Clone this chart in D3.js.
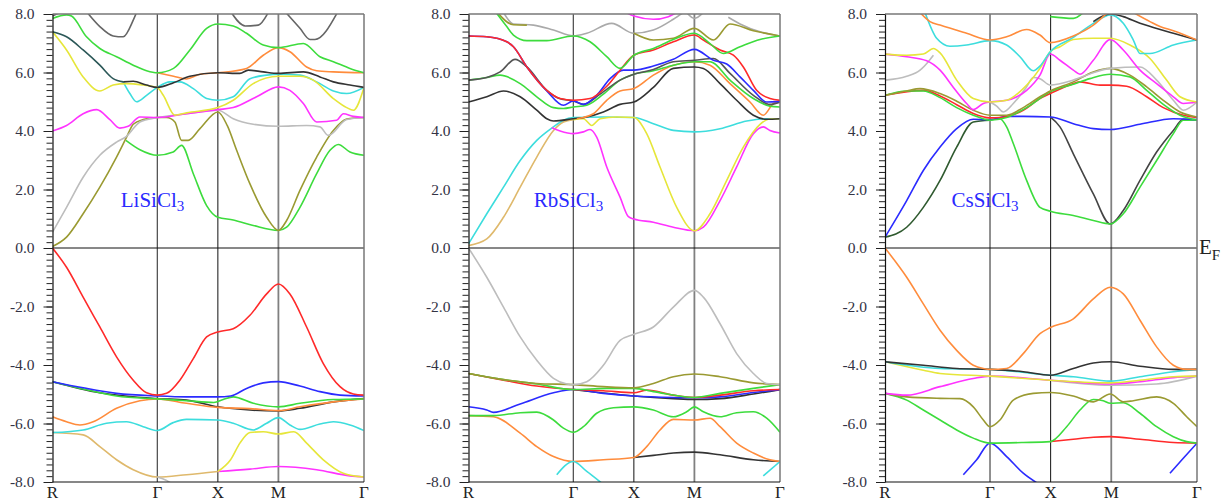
<!DOCTYPE html>
<html>
<head>
<meta charset="utf-8">
<script src="https://cdn.jsdelivr.net/npm/d3@7"></script>
<style>
  body { margin: 0; background: #fff; }
  svg text { font-family: "Liberation Serif", "Times New Roman", serif; }
</style>
</head>
<body>
<div id="chart"></div>
<script>
// high symmetry path R - G - X - M - G (path length units)
var kTicks = [0, 0.866, 1.366, 1.866, 2.573];
var kLabels = ["R", "\u0393", "X", "M", "\u0393"];
var eTicks = [8, 6, 4, 2, 0, -2, -4, -6, -8];

// ---------------- LiSiCl3 ----------------
var li_olive = [[0,0.05],[0.116,0.37],[0.253,1.17],[0.391,2.08],[0.529,3.11],[0.612,3.79],[0.667,4.23],[0.749,4.39],[0.866,4.46],[0.942,4.46],[1.011,4.31],[1.066,3.68],[1.121,3.68],[1.218,4.08],[1.366,4.65],[1.443,4.19],[1.521,3.34],[1.631,2.19],[1.769,1.05],[1.866,0.6],[1.934,0.94],[2.044,1.97],[2.182,3.11],[2.32,4.02],[2.43,4.41],[2.573,4.46]];
var li_green1 = [[0.606,3.68],[0.722,3.36],[0.866,3.17],[0.997,3.28],[1.066,3.51],[1.163,2.54],[1.273,1.45],[1.366,1.05],[1.493,0.96],[1.658,0.77],[1.866,0.6],[1.934,0.71],[2.044,1.39],[2.182,2.54],[2.292,3.34],[2.361,3.54],[2.457,3.28],[2.573,3.17]];
var li_gray = [[0,0.54],[0.116,1.39],[0.253,2.42],[0.391,3.17],[0.529,3.62],[0.612,3.82],[0.722,4.31],[0.866,4.46],[1.107,4.59],[1.366,4.71],[1.493,4.42],[1.658,4.23],[1.866,4.16],[2.099,4.19],[2.209,4.14],[2.278,3.85],[2.43,4.39],[2.573,4.46]];
var li_magenta = [[0,4.0],[0.116,4.19],[0.253,4.59],[0.364,4.73],[0.474,4.39],[0.556,4.1],[0.625,4.16],[0.722,4.48],[0.866,4.46],[1.107,4.59],[1.366,4.73],[1.493,4.8],[1.686,5.17],[1.866,5.51],[1.961,5.39],[2.072,4.94],[2.182,4.31],[2.347,4.37],[2.402,4.59],[2.485,4.5],[2.573,4.46]];
var li_yellow = [[0,7.39],[0.116,6.77],[0.253,5.85],[0.391,5.37],[0.501,5.57],[0.612,5.62],[0.749,5.57],[0.866,5.49],[0.915,5.22],[1.011,4.54],[1.107,4.62],[1.366,4.8],[1.493,5.05],[1.658,5.62],[1.866,5.87],[2.044,5.87],[2.154,5.74],[2.32,5.11],[2.43,4.8],[2.485,4.71],[2.573,5.49]];
var li_cyan = [[0.584,5.68],[0.639,5.28],[0.694,5.0],[0.777,5.22],[0.866,5.49],[0.97,5.68],[1.052,5.68],[1.163,5.45],[1.273,5.11],[1.366,5.05],[1.493,5.17],[1.631,5.79],[1.769,5.91],[1.866,5.94],[2.044,5.91],[2.182,5.68],[2.32,5.37],[2.43,5.28],[2.573,5.49]];
var li_teal = [[0,7.39],[0.116,7.22],[0.253,6.77],[0.391,6.25],[0.501,5.79],[0.584,5.68]];
var li_black = [[0.584,5.68],[0.667,5.7],[0.777,5.57],[0.866,5.49],[1.0,5.65],[1.135,5.87],[1.366,5.99],[1.548,5.97],[1.617,6.08],[1.741,6.02],[1.866,5.97],[2.072,6.02],[2.209,5.85],[2.32,5.68],[2.457,5.57],[2.573,5.49]];
var li_orange = [[0.866,5.99],[1.0,5.87],[1.107,5.78],[1.218,5.94],[1.366,5.99],[1.603,6.14],[1.741,6.59],[1.866,6.85],[1.961,6.71],[2.099,6.19],[2.182,6.06],[2.32,6.02],[2.573,5.99]];
var li_green2 = [[0,7.85],[0.116,7.97],[0.157,7.93],[0.281,7.22],[0.391,6.82],[0.529,6.54],[0.667,6.25],[0.777,6.06],[0.866,5.99],[1.0,6.14],[1.135,6.77],[1.273,7.51],[1.366,7.66],[1.493,7.59],[1.603,7.34],[1.741,6.94],[1.866,6.85],[2.072,6.99],[2.209,6.54],[2.32,6.37],[2.457,6.14],[2.573,5.99]];
var li_dgray0 = [[0,7.93],[0.06,8.05]];
var li_dgray1 = [[0.287,8.05],[0.391,7.57],[0.501,7.25],[0.584,7.22],[0.667,7.79],[0.694,8.05]];
var li_dgray2 = [[1.477,8.05],[1.592,7.59],[1.7,7.62],[1.782,8.05]];
var li_dgray3 = [[1.928,8.05],[2.044,7.51],[2.127,7.13],[2.168,7.13],[2.353,8.05]];
var li_red_v = [[0,0],[0.116,-0.66],[0.253,-1.68],[0.391,-2.7],[0.529,-3.72],[0.667,-4.52],[0.777,-4.95],[0.866,-5.03],[0.942,-4.97],[1.052,-4.52],[1.163,-3.78],[1.273,-3.04],[1.366,-2.87],[1.493,-2.76],[1.631,-2.3],[1.769,-1.57],[1.866,-1.23],[1.961,-1.57],[2.099,-2.7],[2.237,-3.95],[2.375,-4.74],[2.485,-4.99],[2.573,-5.03]];
var li_blue_v = [[0,-4.57],[0.253,-4.78],[0.529,-4.97],[0.866,-5.06],[1.107,-5.09],[1.366,-5.09],[1.471,-5.06],[1.603,-4.8],[1.741,-4.61],[1.866,-4.57],[2.044,-4.72],[2.209,-4.91],[2.375,-5.03],[2.573,-5.06]];
var li_green_v = [[0,-4.57],[0.253,-4.82],[0.529,-5.06],[0.866,-5.16],[1.107,-5.22],[1.333,-5.28],[1.41,-5.18],[1.493,-5.09],[1.658,-5.31],[1.866,-5.43],[2.044,-5.31],[2.32,-5.18],[2.573,-5.16]];
var li_black_v = [[0,-4.57],[0.391,-4.95],[0.866,-5.15],[1.107,-5.2],[1.366,-5.43],[1.631,-5.54],[1.866,-5.57],[2.044,-5.48],[2.32,-5.26],[2.573,-5.15]];
var li_orange_v = [[0,-5.77],[0.116,-5.94],[0.226,-6.05],[0.336,-5.94],[0.529,-5.48],[0.722,-5.22],[0.866,-5.16],[1.107,-5.31],[1.366,-5.45],[1.631,-5.49],[1.866,-5.56],[2.044,-5.43],[2.32,-5.26],[2.573,-5.16]];
var li_cyan_v = [[0,-6.31],[0.253,-6.22],[0.446,-5.99],[0.612,-5.94],[0.749,-6.11],[0.866,-6.24],[0.997,-5.97],[1.107,-5.86],[1.366,-5.88],[1.493,-5.99],[1.658,-6.22],[1.769,-5.99],[1.866,-5.8],[1.961,-6.05],[2.044,-6.2],[2.209,-6.02],[2.32,-5.94],[2.457,-6.05],[2.573,-6.24]];
var li_tan_v = [[0,-6.31],[0.253,-6.39],[0.391,-6.79],[0.529,-7.24],[0.667,-7.58],[0.866,-7.83],[1.107,-7.75],[1.366,-7.64]];
var li_magenta_v = [[1.366,-7.64],[1.631,-7.56],[1.866,-7.47],[2.182,-7.58],[2.457,-7.79],[2.573,-7.83]];
var li_yellow_v = [[1.366,-7.64],[1.471,-7.24],[1.548,-6.67],[1.631,-6.31],[1.741,-6.28],[1.866,-6.36],[1.994,-6.28],[2.099,-6.67],[2.237,-7.24],[2.402,-7.7],[2.573,-7.83]];
var li_gray_v = [[0.866,-7.83],[0.942,-7.95],[0.983,-8.05]];

// ---------------- RbSiCl3 ----------------
var rb_cyan = [[0,0.14],[0.151,1.17],[0.289,2.08],[0.427,2.99],[0.564,3.68],[0.702,4.14],[0.784,4.37],[0.866,4.46],[1.114,4.48],[1.366,4.46],[1.527,4.25],[1.692,4.02],[1.866,3.97],[2.078,4.08],[2.298,4.34],[2.463,4.42],[2.573,4.42]];
var rb_tan = [[0,0.08],[0.151,0.31],[0.289,1.05],[0.427,2.08],[0.564,3.11],[0.702,4.02],[0.784,4.31],[0.866,4.39]];
var rb_yellow = [[0.866,4.39],[0.949,4.42],[1.018,4.19],[1.087,4.42],[1.225,4.48],[1.366,4.46],[1.472,3.91],[1.582,2.77],[1.72,1.39],[1.866,0.59],[1.995,1.17],[2.133,2.31],[2.27,3.45],[2.408,4.23],[2.49,4.41],[2.573,4.42]];
var rb_magenta = [[0.688,4.11],[0.757,4.0],[0.866,3.91],[0.949,3.97],[1.004,4.05],[1.059,3.79],[1.142,2.77],[1.252,1.74],[1.321,1.07],[1.366,0.99],[1.527,0.88],[1.692,0.71],[1.866,0.59],[1.94,0.71],[2.078,1.62],[2.215,2.77],[2.353,3.91],[2.435,4.14],[2.49,4.02],[2.573,3.93]];
var rb_black = [[0,4.99],[0.151,5.17],[0.289,5.37],[0.427,5.17],[0.564,4.71],[0.647,4.42],[0.702,4.34],[0.866,4.42],[0.977,4.48],[1.114,4.65],[1.252,4.91],[1.366,4.99],[1.527,5.49],[1.692,6.14],[1.866,6.19],[1.94,6.14],[2.078,5.62],[2.215,5.05],[2.353,4.54],[2.463,4.4],[2.573,4.42]];
var rb_dgray = [[0,5.74],[0.151,5.83],[0.261,6.02],[0.385,6.45],[0.482,6.19],[0.647,5.39],[0.757,5.1],[0.866,5.03],[0.949,4.91],[1.087,5.26],[1.252,5.74],[1.366,5.94],[1.527,6.1],[1.692,6.37],[1.866,6.42],[2.023,6.48],[2.16,5.97],[2.353,5.22],[2.49,4.91],[2.573,4.99]];
var rb_green = [[0,5.74],[0.151,5.83],[0.261,5.91],[0.427,5.62],[0.564,5.17],[0.702,4.8],[0.784,4.77],[0.866,4.82],[0.977,4.88],[1.114,5.26],[1.252,5.74],[1.366,5.94],[1.527,6.06],[1.692,6.25],[1.866,6.37],[1.995,6.37],[2.16,5.74],[2.353,5.11],[2.49,4.85],[2.573,4.82]];
var rb_orange = [[0.894,4.42],[0.949,4.46],[1.032,4.59],[1.142,5.05],[1.252,5.37],[1.366,5.45],[1.527,5.91],[1.692,6.25],[1.866,6.37],[1.995,6.25],[2.16,5.62],[2.325,4.99],[2.435,4.54],[2.518,4.94],[2.573,5.03]];
var rb_blue = [[0,7.25],[0.151,7.22],[0.316,7.05],[0.371,6.88],[0.482,6.19],[0.647,5.37],[0.784,4.88],[0.866,5.03],[0.949,4.91],[1.059,5.22],[1.17,5.79],[1.28,6.08],[1.366,6.08],[1.527,6.22],[1.692,6.45],[1.866,6.79],[2.023,6.42],[2.133,6.29],[2.243,5.85],[2.353,5.39],[2.463,4.99],[2.573,5.02]];
var rb_red = [[0,7.25],[0.151,7.22],[0.316,7.05],[0.371,6.88],[0.482,6.19],[0.647,5.39],[0.757,5.11],[0.866,5.05],[1.004,5.11],[1.142,5.53],[1.252,6.08],[1.366,6.59],[1.527,6.77],[1.692,7.05],[1.866,7.28],[1.94,7.11],[2.078,6.77],[2.188,6.59],[2.27,6.19],[2.38,5.39],[2.49,5.11],[2.573,5.05]];
var rb_green2 = [[0.228,8.05],[0.316,7.57],[0.371,7.28],[0.482,7.09],[0.647,7.09],[0.866,7.25],[1.004,7.05],[1.142,6.54],[1.252,6.14],[1.366,6.59],[1.527,6.82],[1.692,7.13],[1.866,7.34],[1.995,6.99],[2.105,6.65],[2.243,6.88],[2.408,7.13],[2.573,7.25]];
var rb_olive = [[1.366,7.34],[1.527,7.11],[1.692,7.17],[1.866,7.51],[2.023,7.11],[2.16,7.66],[2.353,7.43],[2.573,7.25]];
var rb_olive0 = [[0.239,8.05],[0.371,7.63],[0.482,7.62]];
var rb_lgray1 = [[0.289,8.05],[0.371,7.66],[0.537,7.62],[0.702,7.45],[0.866,7.25],[0.977,7.34],[1.183,7.68],[1.366,7.34],[1.527,7.45],[1.692,7.82],[1.775,8.05]];
var rb_lgray2 = [[1.802,8.05],[1.866,7.85],[1.94,8.05]];
var rb_lgray3 = [[2.146,7.89],[2.243,7.66],[2.408,7.39],[2.573,7.25]];
var rb_magenta2 = [[1.302,8.05],[1.366,7.93],[1.527,7.82],[1.651,7.91],[1.72,8.05]];
var rb_lgray_v = [[0,0],[0.151,-1.0],[0.289,-2.02],[0.427,-3.04],[0.564,-3.84],[0.702,-4.46],[0.812,-4.65],[0.866,-4.67],[0.977,-4.57],[1.114,-4.01],[1.252,-3.16],[1.366,-2.95],[1.527,-2.7],[1.692,-2.02],[1.866,-1.45],[1.94,-1.68],[2.078,-2.59],[2.215,-3.61],[2.353,-4.29],[2.463,-4.63],[2.573,-4.67]];
var rb_olive_v = [[0,-4.29],[0.289,-4.5],[0.564,-4.63],[0.866,-4.67],[1.114,-4.74],[1.366,-4.78],[1.527,-4.63],[1.692,-4.4],[1.866,-4.31],[2.078,-4.4],[2.353,-4.61],[2.573,-4.67]];
var rb_green_v = [[0,-4.29],[0.289,-4.5],[0.564,-4.65],[0.866,-4.84],[1.142,-4.8],[1.366,-4.8],[1.527,-4.91],[1.866,-5.11],[2.078,-4.97],[2.353,-4.8],[2.573,-4.67]];
var rb_red_v = [[0,-4.29],[0.289,-4.52],[0.564,-4.72],[0.866,-4.84],[1.114,-4.88],[1.366,-4.95],[1.472,-4.86],[1.692,-5.03],[1.866,-5.11],[2.078,-5.03],[2.353,-4.88],[2.573,-4.84]];
var rb_blue_v = [[0,-5.43],[0.151,-5.54],[0.206,-5.62],[0.427,-5.33],[0.702,-4.95],[0.866,-4.84],[1.114,-4.97],[1.366,-5.06],[1.692,-5.11],[1.866,-5.12],[2.078,-5.09],[2.353,-4.94],[2.573,-4.84]];
var rb_black_v = [[0.866,-4.84],[1.366,-5.06],[1.692,-5.15],[1.866,-5.18],[2.078,-5.15],[2.353,-4.99],[2.573,-4.84]];
var rb_green_v2 = [[0,-5.73],[0.206,-5.73],[0.427,-5.63],[0.564,-5.61],[0.702,-5.88],[0.784,-6.16],[0.866,-6.3],[0.949,-6.11],[1.059,-5.65],[1.197,-5.46],[1.366,-5.43],[1.527,-5.54],[1.692,-5.77],[1.802,-5.6],[1.866,-5.43],[1.94,-5.6],[2.078,-5.77],[2.215,-5.63],[2.353,-5.6],[2.463,-5.82],[2.573,-6.3]];
var rb_orange_v = [[0,-5.73],[0.206,-5.77],[0.427,-6.33],[0.564,-6.79],[0.702,-7.13],[0.866,-7.3],[1.114,-7.24],[1.366,-7.16],[1.472,-6.79],[1.582,-6.22],[1.692,-5.86],[1.866,-5.88],[1.995,-5.82],[2.078,-6.11],[2.215,-6.67],[2.353,-7.01],[2.49,-7.24],[2.573,-7.3]];
var rb_black_v2 = [[1.366,-7.16],[1.527,-7.09],[1.692,-7.01],[1.866,-6.98],[2.078,-7.07],[2.353,-7.24],[2.573,-7.3]];
var rb_cyan_v = [[0.729,-7.75],[0.866,-7.3],[0.977,-7.64],[1.101,-8.04]];
var rb_cyan_v2 = [[2.435,-7.79],[2.573,-7.3]];

// ---------------- CsSiCl3 ----------------
var cs_blue = [[0,0.37],[0.179,1.62],[0.316,2.65],[0.454,3.45],[0.591,4.08],[0.728,4.4],[0.866,4.39],[1.003,4.5],[1.14,4.5],[1.363,4.48],[1.553,4.25],[1.718,4.08],[1.858,4.05],[2.103,4.23],[2.378,4.42],[2.573,4.39]];
var cs_dkgreen = [[0,0.37],[0.179,0.71],[0.316,1.39],[0.454,2.31],[0.591,3.45],[0.728,4.31],[0.866,4.37]];
var cs_green = [[0.866,4.37],[0.948,4.42],[1.003,4.14],[1.058,3.57],[1.168,2.31],[1.278,1.39],[1.363,1.26],[1.553,1.11],[1.718,0.94],[1.858,0.82],[1.965,1.17],[2.103,2.08],[2.24,2.99],[2.378,3.91],[2.46,4.37],[2.573,4.37]];
var cs_black = [[1.363,4.48],[1.443,4.14],[1.553,3.22],[1.718,1.85],[1.858,0.82],[1.965,1.28],[2.103,2.31],[2.24,3.28],[2.378,4.02],[2.46,4.4],[2.573,4.37]];
var cs_olive = [[0,5.22],[0.179,5.37],[0.289,5.45],[0.454,5.28],[0.591,5.02],[0.728,4.71],[0.866,4.54],[1.003,4.54],[1.14,4.8],[1.278,5.17],[1.363,5.37],[1.553,5.68],[1.718,6.02],[1.858,6.14],[2.02,5.91],[2.158,5.51],[2.295,5.05],[2.433,4.65],[2.573,4.48]];
var cs_green2 = [[0,5.22],[0.179,5.37],[0.316,5.37],[0.454,5.14],[0.591,4.8],[0.728,4.54],[0.866,4.37],[1.003,4.46],[1.168,4.8],[1.363,5.34],[1.553,5.6],[1.69,5.79],[1.858,5.94],[2.02,5.85],[2.158,5.39],[2.295,4.91],[2.433,4.54],[2.573,4.37]];
var cs_red = [[0,5.22],[0.316,5.39],[0.454,5.2],[0.591,4.9],[0.728,4.6],[0.866,4.45],[0.948,4.46],[1.14,4.71],[1.278,5.11],[1.363,5.28],[1.553,5.62],[1.608,5.68],[1.773,5.57],[1.858,5.57],[1.993,5.53],[2.158,5.17],[2.295,4.8],[2.46,4.54],[2.573,4.46]];
var cs_magenta = [[0,6.63],[0.179,6.54],[0.344,6.4],[0.454,6.08],[0.564,5.49],[0.673,4.94],[0.728,4.73],[0.811,4.94],[0.866,4.99],[1.003,5.05],[1.168,5.39],[1.278,5.91],[1.363,6.63],[1.443,6.42],[1.553,6.08],[1.608,5.94],[1.718,6.42],[1.858,7.13],[1.965,6.77],[2.103,6.08],[2.24,5.62],[2.378,5.17],[2.46,4.94],[2.573,4.99]];
var cs_yellow = [[0,6.63],[0.179,6.59],[0.316,6.63],[0.399,6.82],[0.454,6.67],[0.591,5.74],[0.728,5.11],[0.866,4.99],[1.003,5.05],[1.14,5.45],[1.278,6.14],[1.363,6.71],[1.443,6.88],[1.553,7.13],[1.718,7.17],[1.858,7.17],[2.02,6.94],[2.185,6.48],[2.322,5.74],[2.433,5.17],[2.573,4.99]];
var cs_gray1 = [[0,5.74],[0.179,5.87],[0.289,6.08],[0.357,6.37],[0.399,6.59]];
var cs_gray2 = [[0.866,4.99],[0.921,4.85],[0.976,4.65],[1.058,4.94],[1.168,5.51],[1.223,5.83],[1.278,5.79],[1.363,5.57],[1.553,5.74],[1.718,5.99],[1.858,6.14],[2.103,6.19],[2.24,5.74],[2.378,5.05],[2.46,4.71],[2.573,4.99]];
var cs_cyan = [[0.33,8.05],[0.426,7.17],[0.536,6.9],[0.673,6.94],[0.866,7.09],[1.003,6.94],[1.113,6.54],[1.223,6.06],[1.278,6.22],[1.363,6.71],[1.553,7.2],[1.718,7.68],[1.858,7.97],[1.965,7.68],[2.048,7.11],[2.103,6.65],[2.185,6.65],[2.378,6.94],[2.573,7.11]];
var cs_orange1 = [[0.289,8.05],[0.371,7.74],[0.454,7.62],[0.673,7.34],[0.866,7.11],[1.003,7.22],[1.168,7.47],[1.278,7.28],[1.363,7.02],[1.553,7.25],[1.718,7.62],[1.828,8.02]];
var cs_orange2 = [[2.048,8.05],[2.185,7.74],[2.268,7.57],[2.378,7.43],[2.573,7.11]];
var cs_black2 = [[1.718,7.74],[1.858,8.0],[1.965,7.91],[2.103,7.68],[2.213,7.54],[2.378,7.34],[2.573,7.11]];
var cs_green3 = [[1.363,7.91],[1.553,7.85],[1.636,8.05]];
var cs_orange_v = [[0,0],[0.179,-1.0],[0.316,-1.91],[0.454,-2.81],[0.591,-3.5],[0.728,-4.01],[0.811,-4.12],[0.866,-4.15],[1.003,-4.12],[1.14,-3.61],[1.278,-2.93],[1.363,-2.72],[1.553,-2.42],[1.718,-1.74],[1.858,-1.34],[1.965,-1.57],[2.103,-2.47],[2.24,-3.38],[2.378,-4.01],[2.488,-4.15],[2.573,-4.15]];
var cs_black_v = [[0,-3.89],[0.316,-4.01],[0.591,-4.12],[0.866,-4.15],[1.14,-4.23],[1.363,-4.35],[1.553,-4.12],[1.718,-3.93],[1.858,-3.89],[2.103,-4.04],[2.378,-4.15],[2.573,-4.15]];
var cs_cyan_v = [[0,-3.89],[0.454,-4.12],[0.866,-4.15],[1.363,-4.35],[1.553,-4.4],[1.858,-4.55],[2.103,-4.4],[2.378,-4.23],[2.573,-4.15]];
var cs_yellow_v = [[0,-3.89],[0.316,-4.18],[0.454,-4.29],[0.866,-4.38],[1.363,-4.52],[1.858,-4.61],[2.103,-4.52],[2.378,-4.4],[2.573,-4.38]];
var cs_magenta_v = [[0,-4.97],[0.179,-5.03],[0.454,-4.74],[0.728,-4.46],[0.866,-4.38],[1.363,-4.52],[1.858,-4.65],[2.103,-4.57],[2.378,-4.43],[2.573,-4.38]];
var cs_gray_v = [[1.363,-4.52],[1.858,-4.69],[2.24,-4.65],[2.573,-4.38]];
var cs_olive_v = [[0,-4.97],[0.179,-5.09],[0.454,-5.14],[0.618,-5.15],[0.728,-5.43],[0.811,-5.88],[0.866,-6.11],[0.948,-5.88],[1.058,-5.2],[1.223,-4.97],[1.363,-4.94],[1.553,-5.06],[1.718,-5.26],[1.858,-4.99],[1.965,-5.26],[2.048,-5.22],[2.24,-5.09],[2.378,-5.31],[2.488,-5.77],[2.573,-6.11]];
var cs_green_v = [[0,-4.97],[0.179,-5.2],[0.316,-5.54],[0.454,-5.88],[0.591,-6.22],[0.728,-6.5],[0.866,-6.67],[1.14,-6.65],[1.363,-6.62],[1.498,-6.11],[1.608,-5.54],[1.718,-5.18],[1.8,-5.22],[1.858,-5.31],[1.965,-5.29],[2.103,-5.65],[2.24,-6.11],[2.378,-6.45],[2.488,-6.62],[2.573,-6.67]];
var cs_red_v = [[1.363,-6.62],[1.553,-6.54],[1.718,-6.47],[1.858,-6.45],[2.103,-6.54],[2.378,-6.65],[2.573,-6.67]];
var cs_blue_v = [[0.646,-7.75],[0.756,-7.24],[0.866,-6.67],[1.003,-7.13],[1.14,-7.7],[1.256,-8.04]];
var cs_blue_v2 = [[2.35,-7.7],[2.46,-7.19],[2.573,-6.67]];

// colours
var C = {
  red: "#ff2a2a", blue: "#2b2bff", green: "#3ddc3d", olive: "#9a9a32",
  gray: "#bdbdbd", magenta: "#ff33ff", yellow: "#e6e63a", cyan: "#3ddddd",
  black: "#333333", orange: "#ff8c3c", tan: "#dfb96c", teal: "#2c5858",
  dkgreen: "#2f5a2f", dgray: "#666666"
};

// draw order: later ones on top
var liBands = [
  [li_green1, C.green], [li_olive, C.olive], [li_gray, C.gray], [li_magenta, C.magenta],
  [li_cyan, C.cyan], [li_yellow, C.yellow], [li_orange, C.orange], [li_black, C.black],
  [li_teal, C.teal], [li_green2, C.green], [li_dgray0, C.dgray], [li_dgray1, C.dgray],
  [li_dgray2, C.dgray], [li_dgray3, C.dgray],
  [li_tan_v, C.tan], [li_magenta_v, C.magenta], [li_yellow_v, C.yellow], [li_gray_v, C.gray],
  [li_cyan_v, C.cyan], [li_black_v, C.black], [li_orange_v, C.orange], [li_green_v, C.green],
  [li_blue_v, C.blue], [li_red_v, C.red]
];
var rbBands = [
  [rb_tan, C.tan], [rb_cyan, C.cyan], [rb_magenta, C.magenta], [rb_yellow, C.yellow],
  [rb_black, C.black], [rb_orange, C.orange], [rb_green, C.green], [rb_dgray, "#555555"],
  [rb_blue, C.blue], [rb_red, C.red], [rb_lgray1, "#aaaaaa"], [rb_lgray2, "#aaaaaa"],
  [rb_lgray3, "#aaaaaa"], [rb_olive0, C.olive], [rb_olive, C.olive], [rb_green2, C.green],
  [rb_magenta2, C.magenta],
  [rb_black_v2, C.black], [rb_orange_v, C.orange], [rb_green_v2, C.green], [rb_cyan_v, C.cyan],
  [rb_cyan_v2, C.cyan], [rb_black_v, C.black], [rb_blue_v, C.blue], [rb_red_v, C.red],
  [rb_green_v, C.green], [rb_olive_v, C.olive], [rb_lgray_v, C.gray]
];
var csBands = [
  [cs_black, "#444444"], [cs_green, C.green], [cs_dkgreen, C.dkgreen], [cs_blue, C.blue],
  [cs_red, C.red], [cs_green2, C.green], [cs_olive, C.olive], [cs_gray1, C.gray], [cs_gray2, C.gray],
  [cs_magenta, C.magenta], [cs_yellow, C.yellow], [cs_cyan, C.cyan], [cs_black2, C.black],
  [cs_orange1, C.orange], [cs_orange2, C.orange], [cs_green3, C.green],
  [cs_blue_v, C.blue], [cs_blue_v2, C.blue], [cs_red_v, C.red], [cs_green_v, C.green],
  [cs_olive_v, C.olive], [cs_gray_v, C.gray], [cs_magenta_v, C.magenta], [cs_yellow_v, C.yellow],
  [cs_cyan_v, C.cyan], [cs_black_v, C.black], [cs_orange_v, C.orange]
];

var panels = [
  {id: "li", x0: 52.5, x1: 364, name: "LiSiCl", bands: liBands},
  {id: "rb", x0: 468.5, x1: 780, name: "RbSiCl", bands: rbBands},
  {id: "cs", x0: 885, x1: 1197, name: "CsSiCl", bands: csBands}
];

var svg = d3.select("#chart").append("svg")
  .attr("width", 1230)
  .attr("height", 501);

var yTop = 14, yBottom = 482;

panels.forEach(function(p) {
  var x = d3.scaleLinear().domain([0, 2.573]).range([p.x0, p.x1]);
  var y = d3.scaleLinear().domain([-8, 8]).range([yBottom, yTop]);

  var g = svg.append("g");

  g.append("clipPath").attr("id", "clip-" + p.id)
    .append("rect")
    .attr("x", p.x0).attr("y", yTop)
    .attr("width", p.x1 - p.x0).attr("height", yBottom - yTop);

  // vertical lines at high symmetry points
  var vStyle = [null, ["#555", 1.3], ["#111", 1], ["#808080", 1.8], null];
  kTicks.forEach(function(k, i) {
    if (!vStyle[i]) return;
    g.append("line")
      .attr("x1", x(k)).attr("x2", x(k))
      .attr("y1", yTop).attr("y2", yBottom)
      .attr("stroke", vStyle[i][0]).attr("stroke-width", vStyle[i][1]);
  });

  // fermi level
  g.append("line")
    .attr("x1", p.x0).attr("x2", p.x1)
    .attr("y1", y(0)).attr("y2", y(0))
    .attr("stroke", "#111").attr("stroke-width", 1);

  var line = d3.line()
    .x(function(d) { return x(d[0]); })
    .y(function(d) { return y(d[1]); })
    .curve(d3.curveMonotoneX);

  var bandsG = g.append("g").attr("clip-path", "url(#clip-" + p.id + ")");
  p.bands.forEach(function(b) {
    bandsG.append("path")
      .datum(b[0])
      .attr("fill", "none")
      .attr("stroke", b[1])
      .attr("stroke-width", 1.6)
      .attr("stroke-linejoin", "round")
      .attr("d", line);
  });

  // frame: top and right in grey
  g.append("line").attr("x1", p.x0).attr("x2", p.x1).attr("y1", yTop).attr("y2", yTop)
    .attr("stroke", "#777").attr("stroke-width", 1.5);
  g.append("line").attr("x1", p.x1).attr("x2", p.x1).attr("y1", yTop).attr("y2", yBottom)
    .attr("stroke", "#777").attr("stroke-width", 1.5);
  g.append("line").attr("x1", p.x0).attr("x2", p.x1).attr("y1", yBottom).attr("y2", yBottom)
    .attr("stroke", "#111").attr("stroke-width", 1.2);

  // minor ticks every 0.2
  g.append("g")
    .attr("transform", "translate(" + p.x0 + ",0)")
    .call(d3.axisLeft(y).tickValues(d3.range(-8, 8.001, 0.2)).tickSize(6).tickFormat(""))
    .call(function(a) { a.select(".domain").remove(); a.selectAll("line").attr("stroke", "#222"); });

  // major ticks and labels
  g.append("g")
    .attr("transform", "translate(" + p.x0 + ",0)")
    .call(d3.axisLeft(y).tickValues(eTicks).tickSize(9).tickSizeOuter(0).tickPadding(9)
      .tickFormat(function(d) { return d.toFixed(1); }))
    .call(function(a) {
      a.select(".domain").attr("stroke", "#111").attr("stroke-width", 1.2);
      a.selectAll("line").attr("stroke", "#222");
      a.selectAll("text")
        .attr("font-family", "Liberation Serif, serif")
        .attr("font-size", 15.5)
        .attr("fill", "#333344");
    });

  // k-point labels
  kTicks.forEach(function(k, i) {
    g.append("text")
      .attr("x", x(k)).attr("y", 498)
      .attr("text-anchor", "middle")
      .attr("font-size", 17)
      .attr("fill", "#222")
      .text(kLabels[i]);
  });

  // compound name
  var t = g.append("text")
    .attr("x", p.x0 + 100).attr("y", 207)
    .attr("text-anchor", "middle")
    .attr("font-size", 21)
    .attr("fill", "#2a2aff");
  t.append("tspan").text(p.name);
  t.append("tspan").attr("font-size", 15).attr("dy", 4).text("3");
});

// Fermi level label
var ef = svg.append("text").attr("x", 1199).attr("y", 254).attr("font-size", 21).attr("fill", "#222");
ef.append("tspan").text("E");
ef.append("tspan").attr("font-size", 15).attr("dy", 6).text("F");
</script>
</body>
</html>
